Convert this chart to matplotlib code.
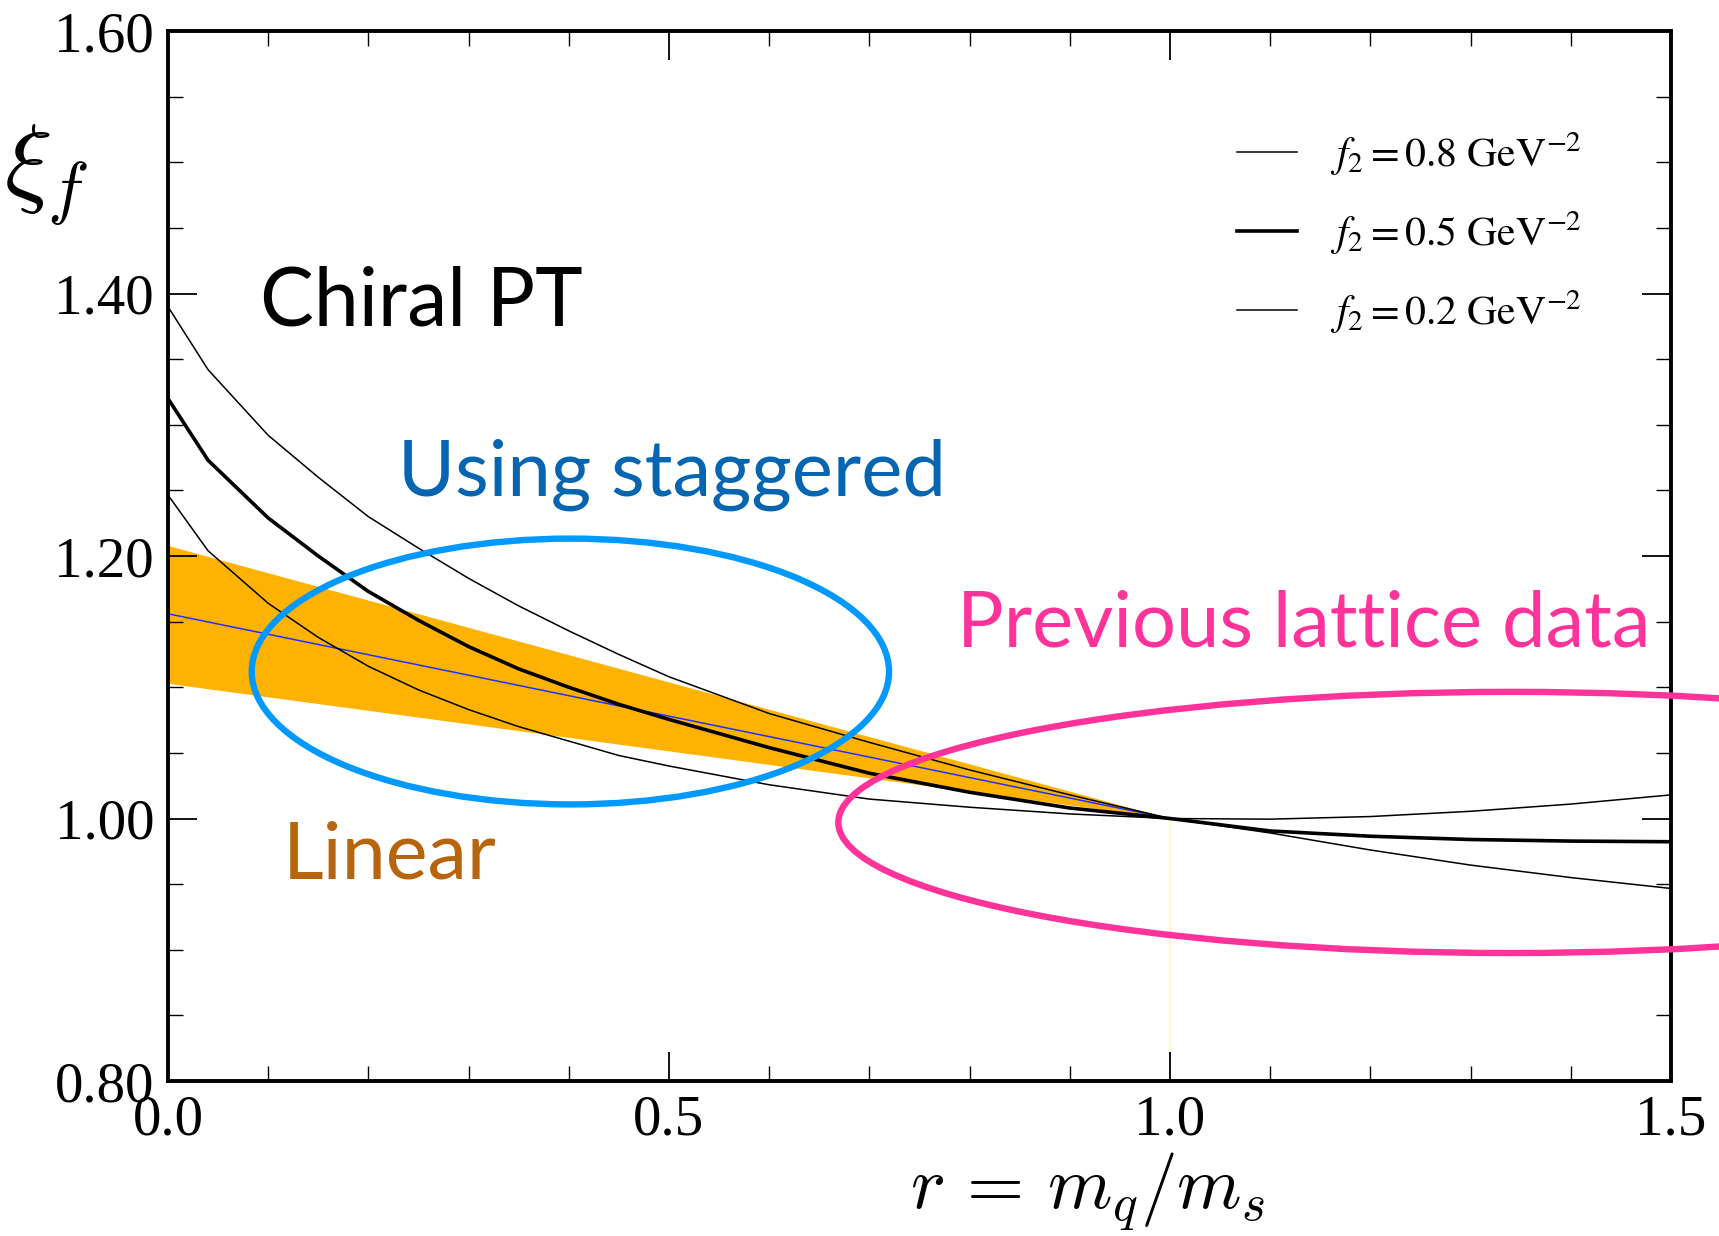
import numpy as np
import matplotlib
matplotlib.use('Agg')
import matplotlib.pyplot as plt
from matplotlib.patches import Ellipse
from matplotlib.ticker import MultipleLocator, FormatStrFormatter

plt.rcParams['font.family'] = 'Liberation Serif'
plt.rcParams['mathtext.fontset'] = 'stix'

# chiral PT curves, r = m_q / m_s
r = [0.0, 0.04, 0.1, 0.15, 0.2, 0.25, 0.3, 0.35, 0.4, 0.45, 0.5,
     0.6, 0.7, 0.8, 0.9, 1.0, 1.1, 1.2, 1.3, 1.4, 1.5]
xi_f2_08 = [1.390, 1.342, 1.292, 1.260, 1.230, 1.206, 1.183, 1.162, 1.143, 1.125, 1.108,
            1.080, 1.058, 1.037, 1.018, 1.000, 0.989, 0.976, 0.9645, 0.955, 0.9467]
xi_f2_05 = [1.320, 1.273, 1.229, 1.200, 1.173, 1.151, 1.131, 1.114, 1.100, 1.087, 1.0755,
            1.054, 1.0345, 1.020, 1.008, 1.000, 0.9905, 0.9865, 0.984, 0.9828, 0.9823]
xi_f2_02 = [1.2465, 1.204, 1.164, 1.138, 1.116, 1.098, 1.083, 1.070, 1.059, 1.048, 1.040,
            1.0257, 1.0148, 1.0086, 1.0035, 1.000, 0.9995, 1.0015, 1.0055, 1.011, 1.018]
labels = [r'$f_2 = 0.8\ \mathrm{GeV}^{-2}$',
          r'$f_2 = 0.5\ \mathrm{GeV}^{-2}$',
          r'$f_2 = 0.2\ \mathrm{GeV}^{-2}$']

# linear fit band
r_lin = [0.0, 1.0]
lin_center = [1.156, 1.0]
lin_upper = [1.208, 1.0]
lin_lower = [1.103, 1.0]

# (center r, center xi, width, height) of the marked regions
staggered_ell = (0.4016, 1.112, 0.636, 0.2025)
lattice_ell = (1.340, 0.997, 1.342, 0.199)

fig = plt.figure(figsize=(17.19, 12.36), dpi=100)
ax = fig.add_axes([0.0977, 0.1254, 0.8744, 0.8495])

ax.fill_between(r_lin, lin_lower, lin_upper, color='#FFB300', lw=0, zorder=1)
ax.plot(r_lin, lin_center, color='#2030FF', lw=1.1, zorder=2)
ax.vlines(r_lin[-1], 0.8, lin_center[-1], color='#FFF0C8', lw=0.8, zorder=1)

ax.plot(r, xi_f2_08, color='black', lw=1.1, label=labels[0], zorder=3)
ax.plot(r, xi_f2_05, color='black', lw=2.6, label=labels[1], zorder=3)
ax.plot(r, xi_f2_02, color='black', lw=1.1, label=labels[2], zorder=3)

e1 = Ellipse(staggered_ell[:2], staggered_ell[2], staggered_ell[3], fill=False,
             edgecolor='#0099FF', lw=4.6, zorder=5)
e2 = Ellipse(lattice_ell[:2], lattice_ell[2], lattice_ell[3], fill=False,
             edgecolor='#FF3399', lw=4.6, zorder=5, clip_on=False)
ax.add_patch(e1)
ax.add_patch(e2)

sans = 'Lato'
ax.text(0.0918, 1.3755, 'Chiral PT', fontsize=58, family=sans, color='black', zorder=6)
ax.text(0.2295, 1.246, 'Using staggered', fontsize=56, family=sans, color='#0565B0', zorder=6)
ax.text(0.7876, 1.1308, 'Previous lattice data', fontsize=56, family=sans, color='#FF3399', zorder=6)
ax.text(0.1146, 0.954, 'Linear', fontsize=57, family=sans, color='#B8640C', zorder=6)

ax.set_xlim(0, 1.5)
ax.set_ylim(0.8, 1.6)
ax.xaxis.set_major_locator(MultipleLocator(0.5))
ax.xaxis.set_minor_locator(MultipleLocator(0.1))
ax.yaxis.set_major_locator(MultipleLocator(0.2))
ax.yaxis.set_minor_locator(MultipleLocator(0.05))
ax.xaxis.set_major_formatter(FormatStrFormatter('%.1f'))
ax.yaxis.set_major_formatter(FormatStrFormatter('%.2f'))
ax.tick_params(which='both', direction='in', top=True, right=True, labelsize=41)
ax.tick_params(which='major', length=21, width=1.3, pad=10)
ax.tick_params(which='minor', length=10.5, width=1.0)
for s in ax.spines.values():
    s.set_linewidth(2.8)

ax.set_xlabel(r'$r\,=\,m_q/m_s$', fontsize=53, math_fontfamily='cm', va='center')
ax.xaxis.set_label_coords(0.612, -0.106)
ax.set_ylabel(r'$\xi_f$', fontsize=72, math_fontfamily='cm', rotation=0, va='center', ha='center')
ax.yaxis.set_label_coords(-0.081, 0.862)

ax.legend(loc='upper left', bbox_to_anchor=(0.711, 0.906), frameon=False, fontsize=30,
          handlelength=1.45, handletextpad=0.78, labelspacing=0.75, borderpad=0,
          borderaxespad=0)

fig.savefig('out.png', dpi=100)
